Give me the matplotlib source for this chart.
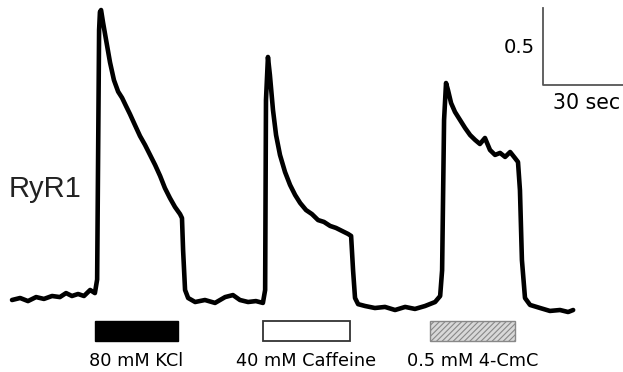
import matplotlib
matplotlib.use("Agg")
import matplotlib.pyplot as plt
from matplotlib.patches import Rectangle

# Trace: time (s) and fluorescence ratio (a.u.)
time_s = [0.0, 2.9, 5.7, 8.6, 11.4, 14.3, 17.1, 19.3, 21.4, 23.6, 25.7, 27.9, 29.6,
          30.4, 31.1, 31.4, 31.8, 32.5, 33.6, 35.0, 36.4, 37.9, 39.3, 40.7, 42.1,
          43.9, 45.7, 47.5, 49.3, 51.1, 52.9, 54.6, 56.4, 58.2, 60.0, 60.7,
          61.1, 61.8, 62.9, 65.4, 68.9, 72.5, 76.1, 78.9, 81.4, 84.3, 87.1, 89.6,
          90.4, 90.7, 91.4, 92.1, 93.2, 94.3, 95.7, 97.5, 99.3, 101.1, 102.9,
          105.0, 107.1, 109.3, 111.4, 113.6, 115.7, 117.9, 120.0, 121.1,
          121.8, 122.5, 123.6, 126.1, 129.6, 133.2, 136.8, 140.4, 143.9, 147.5,
          151.1, 152.9, 153.6, 154.3, 155.0, 155.7, 156.8, 158.2, 160.0, 161.8,
          163.6, 165.4, 167.1, 168.9, 170.7, 172.5, 174.3, 176.1, 177.9, 179.6,
          180.7, 181.4, 182.1, 183.2, 185.0, 188.6, 192.1, 195.7, 198.6, 200.4]
signal = [-0.013, 0.0, -0.02, 0.006, -0.006, 0.013, 0.006, 0.032, 0.013, 0.026, 0.013, 0.052, 0.032,
          0.12, 1.74, 1.857, 1.87, 1.79, 1.675, 1.53, 1.415, 1.34, 1.30, 1.247, 1.195,
          1.123, 1.052, 0.994, 0.929, 0.864, 0.792, 0.714, 0.649, 0.591, 0.545, 0.519,
          0.31, 0.052, 0.0, -0.026, -0.013, -0.032, 0.006, 0.019, -0.013, -0.026, -0.02, -0.032,
          0.052, 1.286, 1.565, 1.448, 1.221, 1.058, 0.929, 0.818, 0.734, 0.669, 0.617,
          0.571, 0.545, 0.506, 0.494, 0.468, 0.455, 0.435, 0.416, 0.403,
          0.18, 0.0, -0.04, -0.052, -0.065, -0.058, -0.078, -0.058, -0.071, -0.052,
          -0.026, 0.013, 0.18, 1.156, 1.396, 1.35, 1.266, 1.208, 1.156, 1.104,
          1.058, 1.026, 1.0, 1.039, 0.961, 0.929, 0.942, 0.916, 0.948, 0.909,
          0.883, 0.70, 0.247, 0.0, -0.045, -0.065, -0.084, -0.078, -0.091, -0.078]

# Stimuli
stim_labels = ["80 mM KCl", "40 mM Caffeine", "0.5 mM 4-CmC"]
stim_start = [29.6, 89.6, 149.3]
stim_end = [59.3, 120.7, 179.6]

# Scale bar
scale_y = 0.5
scale_t = 30

plt.rcParams["hatch.color"] = "#999999"
plt.rcParams["hatch.linewidth"] = 0.8

fig = plt.figure(figsize=(6.23, 3.72), dpi=100)
ax = fig.add_axes([0, 0, 1, 1])
ax.set_xlim(-4.29, 218.2)
ax.set_ylim(-0.4805, 1.935)
ax.axis("off")

ax.plot(time_s, signal, color="black", lw=3.3, solid_joinstyle="round", solid_capstyle="round")

styles = [dict(facecolor="black", edgecolor="black", lw=1.0),
          dict(facecolor="white", edgecolor="#333333", lw=1.3),
          dict(facecolor="#d8d8d8", edgecolor="#888888", lw=1.0, hatch="//////")]
bar_top, bar_bot = -0.149, -0.279
for s, e, lab, st in zip(stim_start, stim_end, stim_labels, styles):
    ax.add_patch(Rectangle((s, bar_bot), e - s, bar_top - bar_bot, **st))
    ax.text((s + e) / 2, -0.442, lab, ha="center", va="baseline",
            fontsize=12.8, family="DejaVu Sans", color="black")

# scale bar
sx, sy = 189.6, 1.383
ax.plot([sx, sx, sx + scale_t], [sy + scale_y, sy, sy], color="#555555", lw=1.3, clip_on=False)
ax.text(sx - 2.8, 1.591, "0.5", ha="right", va="baseline", fontsize=14.1,
        family="DejaVu Sans", color="black")
ax.text(193.3, 1.227, "30 sec", ha="left", va="baseline", fontsize=14.8,
        family="DejaVu Sans", color="black")

ax.text(-1.3, 0.656, "RyR1", ha="left", va="baseline", fontsize=21,
        family="Liberation Sans", color="#222222")

fig.savefig("out.png", dpi=100)
